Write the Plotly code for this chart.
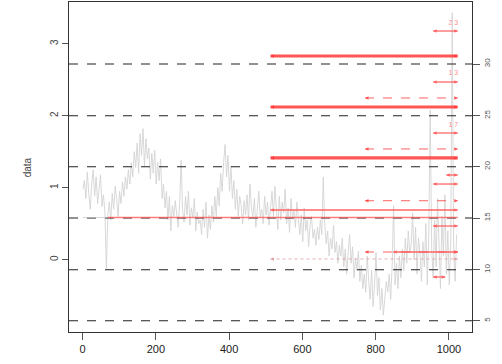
import plotly.graph_objects as go

# ---------------- data ----------------
series_start = 1
series_step = 4
series_values = [
    0.98, 1.10, 0.85, 1.22, 0.92, 0.70, 1.05, 1.25, 0.88, 1.15, 0.78, 0.95, 1.18, 0.74, 0.90, 0.66,
    -0.12, 0.62, 0.80, 0.55, 0.92, 0.70, 1.02, 0.85, 0.60, 0.95, 0.78, 1.08, 0.88, 1.15, 0.98, 1.25,
    1.05, 1.35, 1.15, 1.50, 1.28, 1.62, 1.20, 1.75, 1.45, 1.82, 1.30, 1.68, 1.40, 1.55, 1.12, 1.48,
    1.20, 1.52, 1.05, 1.35, 1.10, 1.40, 0.85, 1.05, 0.72, 0.95, 0.55, 0.88, 0.40, 0.75, 0.60, 0.82,
    0.65, 0.45, 0.78, 1.38, 0.70, 0.52, 0.88, 0.62, 0.95, 0.48, 0.72, 0.58, 0.85, 0.40, 0.66, 0.50,
    0.55, 0.35, 0.70, 0.45, 0.80, 0.30, 0.62, 0.42, 0.75, 0.52, 0.88, 0.60, 1.00, 0.75, 1.20, 0.95,
    1.35, 1.60, 1.15, 1.45, 0.95, 1.30, 0.85, 1.10, 0.70, 0.98, 0.60, 0.88, 0.75, 0.50, 0.82, 0.62,
    0.90, 0.55, 1.05, 0.72, 0.60, 0.85, 0.45, 0.78, 0.95, 0.58, 0.70, 0.50, 0.88, 0.62, 0.80, 0.48,
    0.75, 0.95, 0.60, 1.02, 0.70, 0.42, 0.88, 0.55, 0.80, 0.65, 0.98, 0.50, 0.72, 0.38, 0.85, 0.58,
    0.68, 0.45, 0.80, 0.55, 0.35, 0.62, 0.25, 0.72, 0.40, 0.55, 0.18, 0.48, 0.60, 0.30, 0.42, 0.20,
    0.45, 0.28, 0.55, 0.35, 1.15, 0.50, 0.22, 0.40, 0.05, 0.30, 0.15, 0.48, 0.10, 0.25, -0.05, 0.20,
    0.05, 0.30, -0.10, 0.15, -0.20, 0.10, 0.35, -0.05, 0.18, -0.25, 0.02, -0.15, 0.12, -0.30, -0.08, -0.40,
    -0.20, -0.45, 0.05, -0.30, -0.55, -0.15, -0.65, -0.35, 0.10, -0.50, -0.25, -0.70, -0.40, -0.77, -0.55, -0.30,
    -0.45, -0.20, -0.55, -0.10, 0.75, -0.35, -0.05, -0.40, 0.05, -0.25, 0.15, -0.15, 0.30, -0.05, 0.40, 0.10,
    0.20, 0.65, 0.00, 0.45, -0.20, 0.30, 0.10, -0.30, 0.25, -0.10, 0.50, -0.35, 0.35, 2.08, 0.15, -0.25,
    0.55, -0.10, 0.85, 0.20, -0.40, 0.60, 0.05, 0.90, -0.20, 0.40, -0.35, 0.25, 3.43, 0.10, -0.30, 0.35,
]
series_x = [series_start + series_step * i for i in range(len(series_values))]

# horizontal dashed reference levels and their (right-axis) labels
level_values = [2.718, 2.0, 1.292, 0.579, -0.139, -0.847]
level_labels = ["30", "25", "20", "15", "10", "5"]

# left axis ticks
left_tick_values = [0, 1, 2, 3]
left_tick_labels = ["0", "1", "2", "3"]

x_tick_values = [0, 200, 400, 600, 800, 1000]

# red segments: start, end, level, kind
seg_start = [957, 513, 957, 771, 513, 957, 771, 513, 993, 957, 771, 513, 70, 957, 771, 848, 513, 957]
seg_end   = [1024, 1024, 1024, 1024, 1024, 1024, 1024, 1024, 1024, 1024, 1024, 1024, 1024, 1024, 1024, 1024, 1024, 990]
seg_level = [3.176, 2.829, 2.468, 2.246, 2.121, 1.760, 1.538, 1.413, 1.176, 1.051, 0.819, 0.690, 0.586,
             0.468, 0.107, 0.107, 0.010, -0.240]
seg_kind  = ["arrow", "thick", "arrow", "dash", "thick", "arrow", "dash", "thick", "arrow", "arrow",
             "dash", "medium", "long", "arrow", "dash", "medium", "faint", "arrow"]

# small red annotations
note_x = [1012, 1012, 1012]
note_y = [3.288, 2.593, 1.871]
note_text = ["2 3", "1 3", "1 7"]

# ---------------- styles ----------------
X_RANGE = [-37, 1063]
Y_RANGE = [-1.004, 3.579]

styles = {
    "thick":  dict(width=3.2, color="rgba(255,55,55,0.85)", dash="solid", marker=True),
    "arrow":  dict(width=1.5, color="rgba(255,80,80,0.75)", dash="solid", marker=True),
    "dash":   dict(width=1.0, color="rgba(255,60,60,0.8)", dash="dash", marker=True),
    "medium": dict(width=2.2, color="rgba(255,90,90,0.7)", dash="solid", marker=True),
    "long":   dict(width=1.4, color="rgba(255,90,90,0.8)", dash="solid", marker=False),
    "faint":  dict(width=0.9, color="rgba(225,150,150,0.85)", dash="dot", marker=True),
}

fig = go.Figure()

# gray data series
fig.add_trace(go.Scatter(
    x=series_x, y=series_values, mode="lines",
    line=dict(color="#d4d4d4", width=0.9), hoverinfo="skip", showlegend=False,
))

# dashed black levels
for lv in level_values:
    fig.add_trace(go.Scatter(
        x=X_RANGE, y=[lv, lv], mode="lines",
        line=dict(color="#222222", width=1.1, dash="dash"),
        hoverinfo="skip", showlegend=False,
    ))

# faint lead-in at the long segment level
fig.add_trace(go.Scatter(
    x=[1, 70], y=[0.586, 0.586], mode="lines",
    line=dict(color="rgba(190,190,190,0.8)", width=0.8),
    hoverinfo="skip", showlegend=False,
))

# red segments
for s, e, lv, k in zip(seg_start, seg_end, seg_level, seg_kind):
    st = styles[k]
    fig.add_trace(go.Scatter(
        x=[s, e], y=[lv, lv],
        mode="lines+markers" if st["marker"] else "lines",
        line=dict(color=st["color"], width=st["width"], dash=st["dash"]),
        marker=dict(symbol=["arrow-left", "arrow-right"], size=3.5,
                    color=st["color"], line=dict(width=0)),
        hoverinfo="skip", showlegend=False,
    ))

# small red notes
fig.add_trace(go.Scatter(
    x=note_x, y=note_y, mode="text", text=note_text,
    textfont=dict(size=7, color="rgba(255,110,110,0.8)", family="Liberation Sans"),
    hoverinfo="skip", showlegend=False,
))

# right-axis dummy trace
fig.add_trace(go.Scatter(x=[None], y=[None], yaxis="y2", showlegend=False))

font_fam = "Liberation Sans, Arial, sans-serif"
fig.update_layout(
    width=502, height=364,
    margin=dict(l=69, r=30, t=2, b=32),
    paper_bgcolor="white", plot_bgcolor="white",
    showlegend=False,
    font=dict(family=font_fam, color="#222222"),
    xaxis=dict(
        range=X_RANGE, tickvals=x_tick_values,
        ticks="outside", ticklen=7, tickcolor="#555555",
        showgrid=False, zeroline=False,
        showline=True, linecolor="#333333", linewidth=1.3, mirror=True,
        tickfont=dict(size=11, color="#222222"),
    ),
    yaxis=dict(
        range=Y_RANGE, tickvals=left_tick_values, ticktext=left_tick_labels,
        ticks="outside", ticklen=6, tickcolor="#555555", tickangle=-90,
        showgrid=False, zeroline=False,
        showline=True, linecolor="#333333", linewidth=1.3, mirror=True,
        tickfont=dict(size=10, color="#444444"),
    ),
    yaxis2=dict(
        range=Y_RANGE, overlaying="y", side="right",
        tickvals=level_values, ticktext=level_labels,
        ticks="outside", ticklen=7, tickcolor="#555555", tickangle=-90,
        showgrid=False, zeroline=False, showline=False,
        tickfont=dict(size=8, color="#555555"),
    ),
    annotations=[dict(
        text="data", textangle=-90, xref="paper", yref="paper",
        x=-0.122, y=0.5, showarrow=False,
        font=dict(size=10, color="#444444", family=font_fam),
    )],
)

fig.write_html("out.html")
